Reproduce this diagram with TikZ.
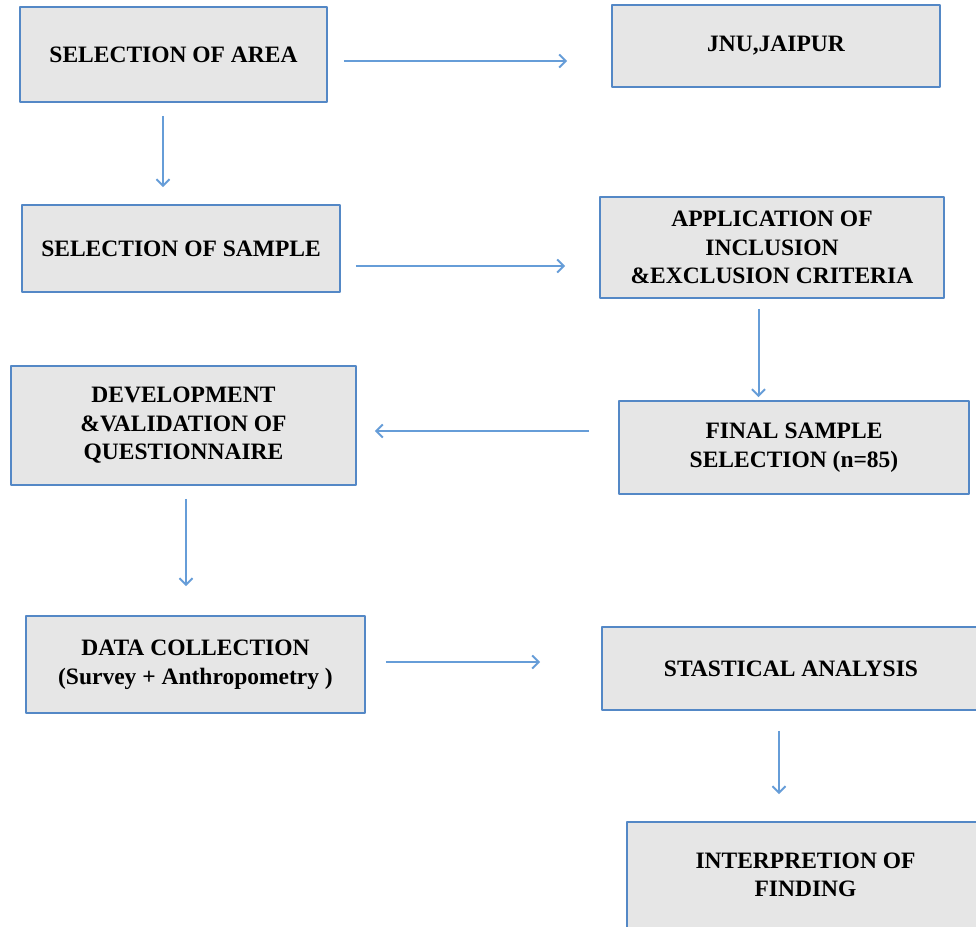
\documentclass[tikz,border=0pt]{standalone}
\usepackage{fontspec}
\setmainfont{Liberation Serif}
\usetikzlibrary{arrows.meta}
\begin{document}
\begin{tikzpicture}[x=1pt,y=-1pt,line join=round,
	box/.style={draw=boxblue,line width=1.8pt,fill=boxgray,inner sep=0pt,align=center,
		font=\bfseries\fontsize{23.5}{28.5}\selectfont},
	flow/.style={draw=arrowblue,line width=2pt,-{Straight Barb[length=6.5pt,width=13pt,line width=2pt]}}]
	\definecolor{boxgray}{RGB}{230,230,230}
	\definecolor{boxblue}{RGB}{84,136,198}
	\definecolor{arrowblue}{RGB}{102,157,216}
	\useasboundingbox (0,0) rectangle (976,926);
	\clip (0,0) rectangle (976,926);
	\foreach \n/\x/\y/\w/\h/\t in {
		area/173.5/54.5/307/95/{SELECTION OF AREA},
		jnu/776/46/328/82/{JNU,JAIPUR},
		sample/181/248.5/318/87/{SELECTION OF SAMPLE},
		criteria/772/247.5/344/101/{APPLICATION OF\\INCLUSION\\\&EXCLUSION CRITERIA},
		quest/183.5/425.5/345/119/{DEVELOPMENT\\\&VALIDATION OF\\QUESTIONNAIRE},
		final/794/447.5/350/93/{FINAL SAMPLE\\SELECTION (n=85)},
		data/195.5/664.5/339/97/{DATA COLLECTION\\(Survey + Anthropometry )},
		stat/791/668.5/378/83/{STASTICAL ANALYSIS},
		interp/805.5/875/357/106/{INTERPRETION OF\\FINDING}}{
		\node[box,minimum width=\w,minimum height=\h] (\n) at (\x,\y) {\t};
	}
	
	\draw[flow,shorten <=16pt,shorten >=44pt] ([yshift=-6.5pt]area.east) -- ([yshift=-6.5pt]area.east -| jnu.west);
	\draw[flow,shorten <=13pt,shorten >=17pt] ([xshift=-10.5pt]area.south) -- ([xshift=-10.5pt]area.south |- sample.north);
	\draw[flow,shorten <=15pt,shorten >=34pt] ([yshift=-17.5pt]sample.east) -- ([yshift=-17.5pt]sample.east -| criteria.west);
	\draw[flow,shorten <=10pt,shorten >=3pt] ([xshift=-13.5pt]criteria.south) -- ([xshift=-13.5pt]criteria.south |- final.north);
	\draw[flow,shorten <=29pt,shorten >=18pt] ([yshift=16.5pt]final.west) -- ([yshift=16.5pt]final.west -| quest.east);
	\draw[flow,shorten <=13pt,shorten >=29pt] ([xshift=2.5pt]quest.south) -- ([xshift=2.5pt]quest.south |- data.north);
	\draw[flow,shorten <=20pt,shorten >=61pt] ([yshift=2.5pt]data.east) -- ([yshift=2.5pt]data.east -| stat.west);
	\draw[flow,shorten <=20pt,shorten >=27pt] ([xshift=-12pt]stat.south) -- ([xshift=-12pt]stat.south |- interp.north);
\end{tikzpicture}
\end{document}
